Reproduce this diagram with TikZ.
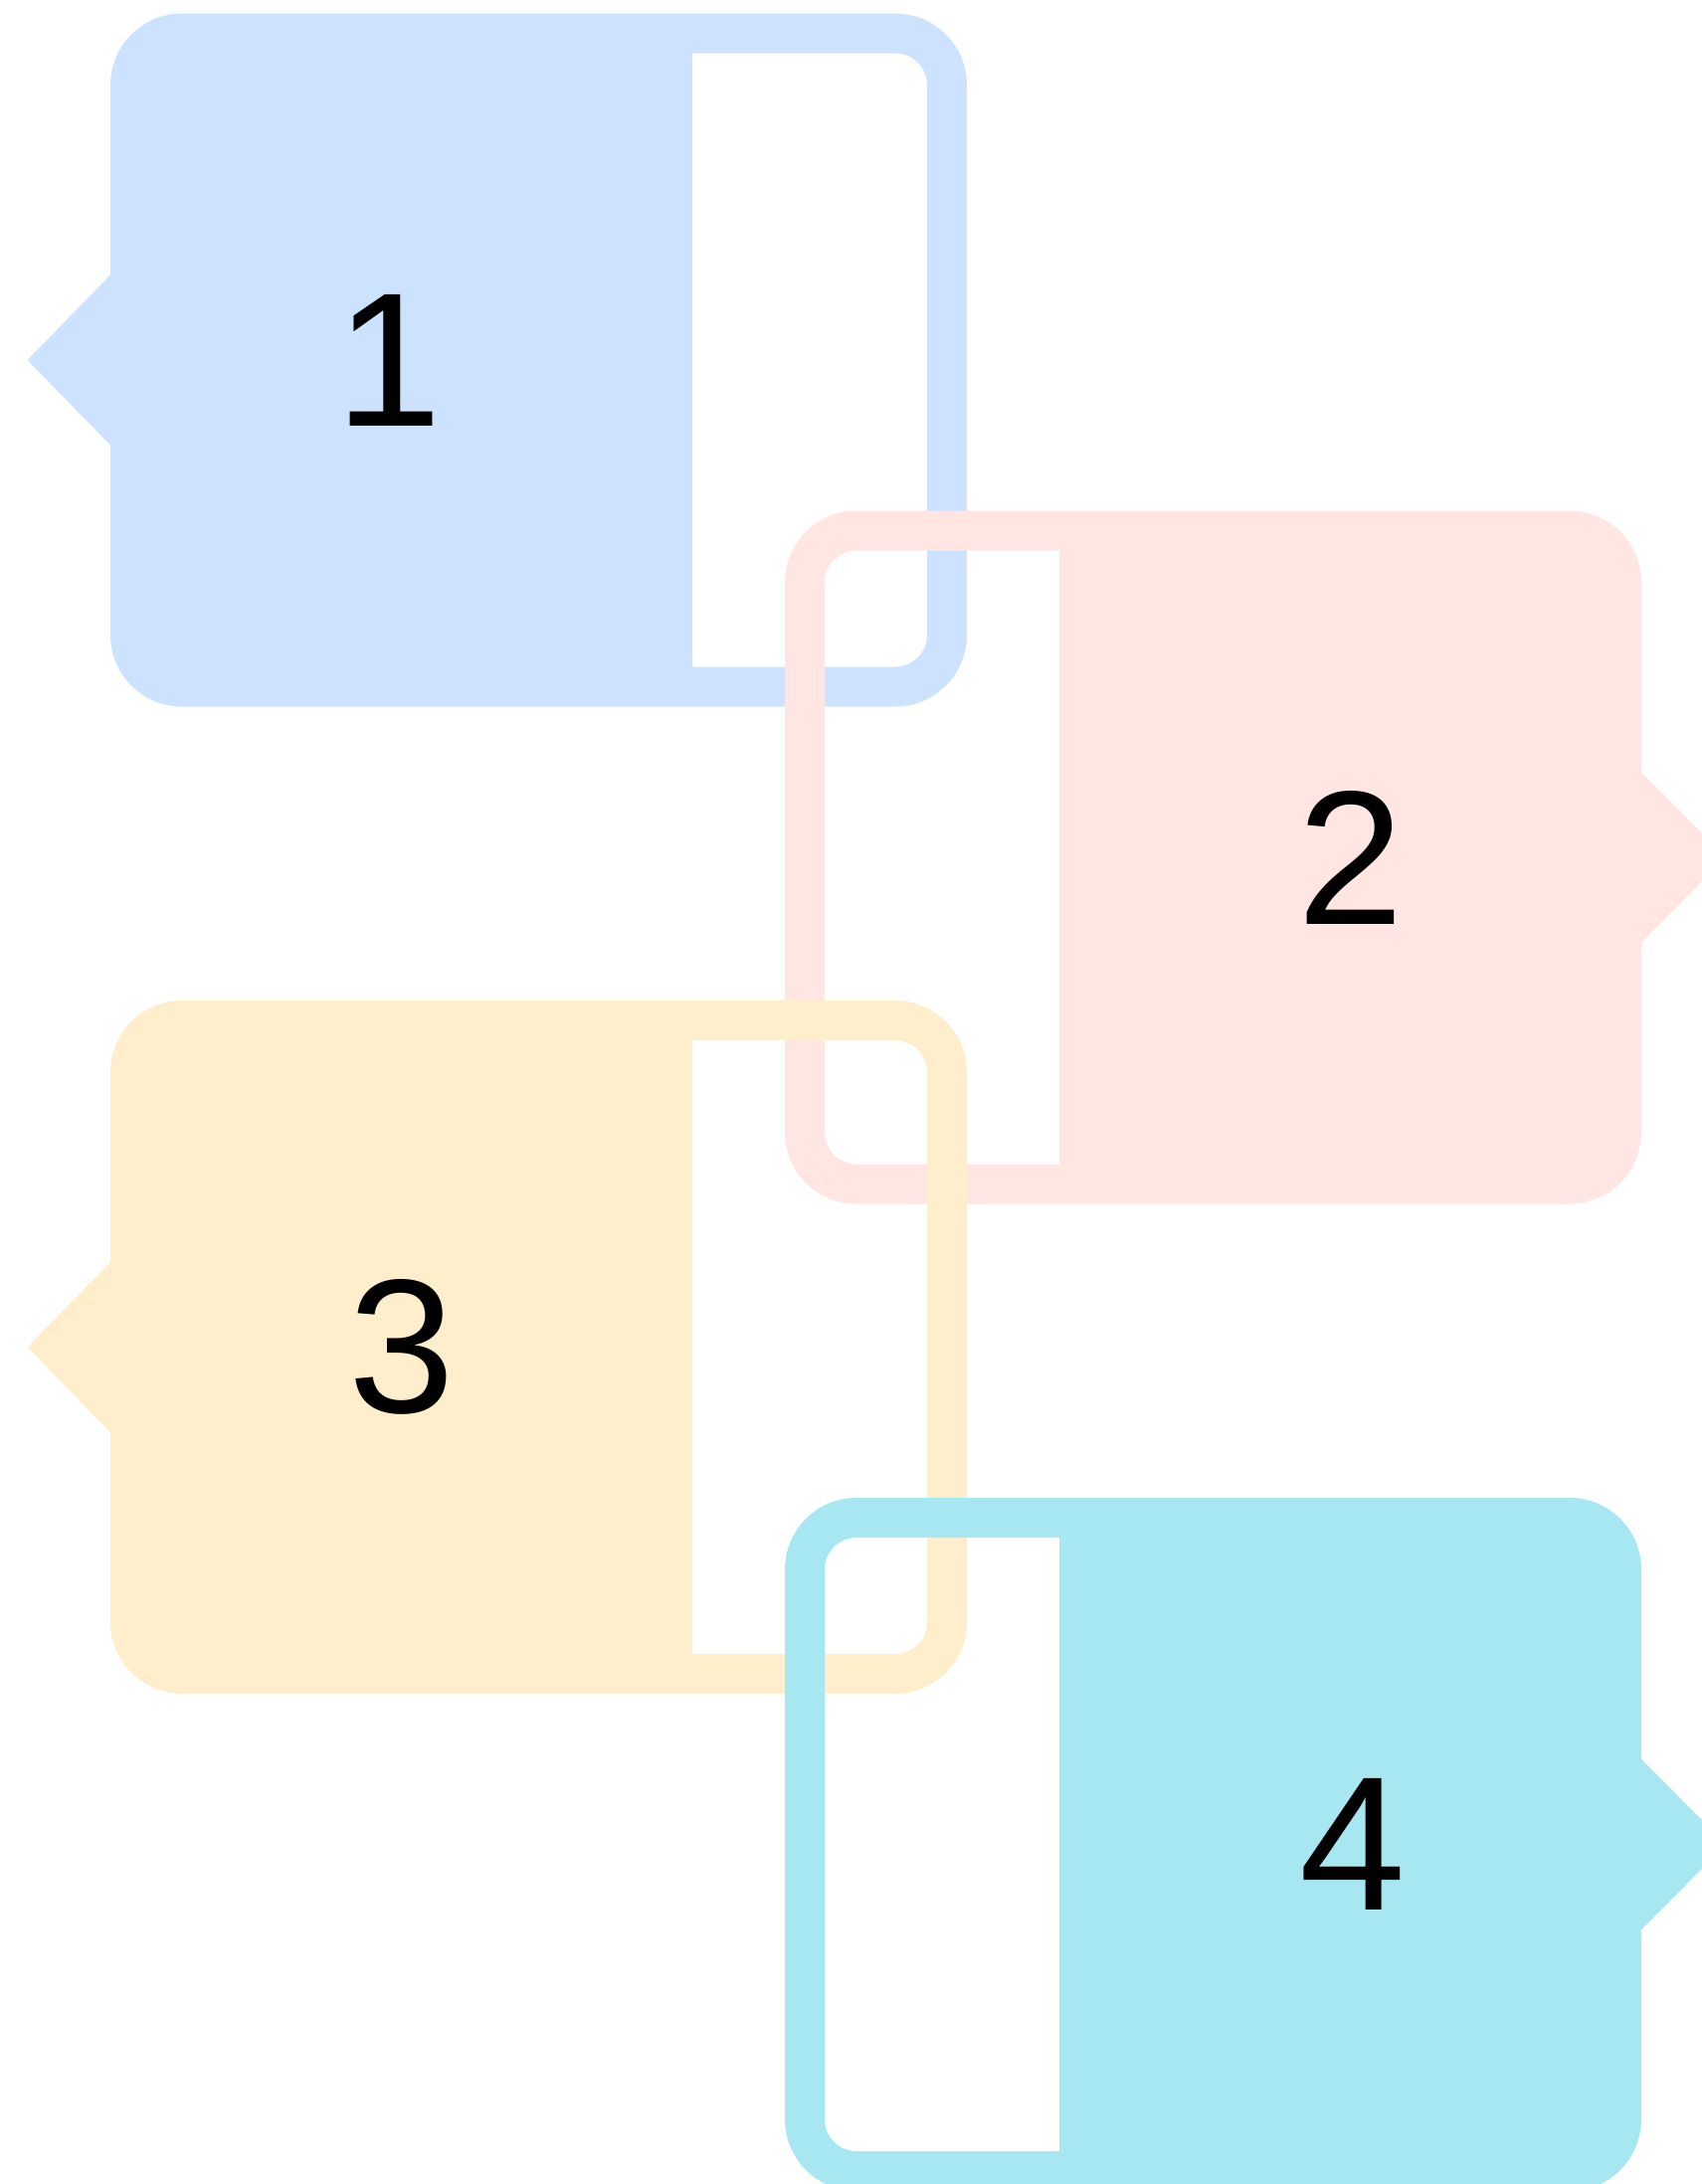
\documentclass[tikz,border=0pt]{standalone}
\usepackage{fontspec}
\setmainfont{Liberation Sans}
\definecolor{cblue}{RGB}{204,226,255}
\definecolor{cpink}{RGB}{255,230,226}
\definecolor{cyellow}{RGB}{254,238,204}
\definecolor{ccyan}{RGB}{166,231,242}
\begin{document}
\begin{tikzpicture}[x=0.5pt,y=-0.5pt,
  frame/.style={line width=20pt,rounded corners=26pt},
  tip/.style={line width=20pt,line join=miter},
  digit/.style={inner sep=0pt,font=\fontsize{96pt}{115pt}\selectfont}]
\useasboundingbox (0,0) rectangle (1711,2196);
% ---- block 1 (left arrow) ----
\begin{scope}
  \clip (0,0) rectangle (696,2196);
  \fill[cblue,rounded corners=26pt] (131,33.5) rectangle (952,690.5);
\end{scope}
\draw[cblue,frame] (131,33.5) rectangle (952,690.5);
\filldraw[cblue,tip] (131,284.5) -- (55.5,362) -- (131,439.5) -- cycle;
\node[digit] (t1) at (391,362) {1};
% ---- block 2 (right arrow) ----
\begin{scope}
  \clip (1065,0) rectangle (1711,2196);
  \fill[cpink,rounded corners=26pt] (809,533.5) rectangle (1630,1190.5);
\end{scope}
\draw[cpink,frame] (809,533.5) rectangle (1630,1190.5);
\filldraw[cpink,tip] (1630,784.5) -- (1707,862) -- (1630,939.5) -- cycle;
\node[digit] (t2) at (1357.5,862) {2};
% ---- block 3 (left arrow) ----
\begin{scope}
  \clip (0,0) rectangle (696,2196);
  \fill[cyellow,rounded corners=26pt] (131,1026) rectangle (952,1683);
\end{scope}
\draw[cyellow,frame] (131,1026) rectangle (952,1683);
\filldraw[cyellow,tip] (131,1277) -- (55.5,1354.5) -- (131,1432) -- cycle;
\node[digit] (t3) at (403.5,1354.5) {3};
% ---- block 4 (right arrow) ----
\begin{scope}
  \clip (1065,0) rectangle (1711,2196);
  \fill[ccyan,rounded corners=26pt] (809,1526) rectangle (1630,2183);
\end{scope}
\draw[ccyan,frame] (809,1526) rectangle (1630,2183);
\filldraw[ccyan,tip] (1630,1777) -- (1707,1854.5) -- (1630,1932) -- cycle;
\node[digit] (t4) at (1360,1854.5) {4};
\end{tikzpicture}
\end{document}
